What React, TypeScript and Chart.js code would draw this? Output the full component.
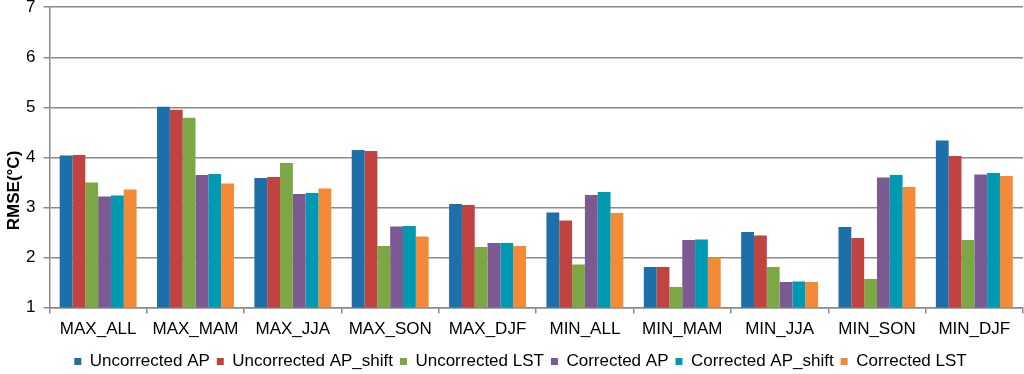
import React, { useEffect, useRef } from "react";
import { Chart, registerables } from "chart.js";

Chart.register(...registerables);

const categories = ["MAX_ALL", "MAX_MAM", "MAX_JJA", "MAX_SON", "MAX_DJF", "MIN_ALL", "MIN_MAM", "MIN_JJA", "MIN_SON", "MIN_DJF"];
const uncorrectedAP = [4.04, 5.01, 3.59, 4.15, 3.07, 2.9, 1.81, 2.51, 2.61, 4.34];
const uncorrectedAPShift = [4.05, 4.95, 3.61, 4.13, 3.05, 2.74, 1.81, 2.44, 2.39, 4.03];
const uncorrectedLST = [3.5, 4.79, 3.89, 2.23, 2.21, 1.86, 1.41, 1.81, 1.57, 2.35];
const correctedAP = [3.22, 3.65, 3.27, 2.62, 2.29, 3.25, 2.35, 1.51, 3.6, 3.66];
const correctedAPShift = [3.24, 3.67, 3.29, 2.63, 2.29, 3.31, 2.36, 1.52, 3.65, 3.69];
const correctedLST = [3.36, 3.48, 3.38, 2.42, 2.23, 2.89, 2.0, 1.51, 3.41, 3.63];
const seriesLabels = ["Uncorrected AP", "Uncorrected AP_shift", "Uncorrected LST", "Corrected AP", "Corrected AP_shift", "Corrected LST"];
const seriesColors = ["#1C6FA9", "#C0433F", "#7DA645", "#7B5A93", "#0099B2", "#F28A38"];
const yTitle = "RMSE(°C)";

const FONT = "'Liberation Sans', Arial, sans-serif";

const yTitlePlugin = {
  id: "yTitlePlugin",
  afterDraw(chart: any) {
    const { ctx, chartArea } = chart;
    ctx.save();
    ctx.font = `bold 17px ${FONT}`;
    ctx.fillStyle = "#000";
    ctx.textAlign = "center";
    ctx.textBaseline = "middle";
    ctx.translate(14, chartArea.top + (chartArea.bottom - chartArea.top) * 0.61);
    ctx.rotate(-Math.PI / 2);
    ctx.fillText(yTitle, 0, 0);
    ctx.restore();
  },
};

export default function App() {
  const ref = useRef<HTMLCanvasElement>(null);
  useEffect(() => {
    document.body.style.margin = "0";
    const values = [uncorrectedAP, uncorrectedAPShift, uncorrectedLST, correctedAP, correctedAPShift, correctedLST];
    const chart = new Chart(ref.current!, {
      type: "bar",
      data: {
        labels: categories,
        datasets: values.map((v, i) => ({
          label: seriesLabels[i],
          data: v,
          backgroundColor: seriesColors[i],
          borderWidth: 0,
          categoryPercentage: 0.79,
          barPercentage: 1.0,
        })),
      },
      options: {
        animation: false,
        responsive: false,
        layout: { padding: { left: 18, right: 1, top: 0, bottom: 2 } },
        plugins: {
          legend: {
            position: "bottom",
            labels: {
              boxWidth: 7,
              boxHeight: 7,
              padding: 7,
              color: "#000",
              font: { family: FONT, size: 17 },
            },
          },
          tooltip: { enabled: false },
        },
        scales: {
          x: {
            grid: { display: true, drawOnChartArea: false, offset: true, color: "#8a8a8a", lineWidth: 1.5, tickLength: 6 },
            border: { color: "#8a8a8a", width: 1.5 },
            ticks: { color: "#000", font: { family: FONT, size: 17 }, padding: 6, maxRotation: 0 },
          },
          y: {
            min: 1,
            max: 7,
            ticks: { stepSize: 1, color: "#000", font: { family: FONT, size: 17 }, padding: 8 },
            grid: { color: "#8a8a8a", lineWidth: 1.5, tickLength: 6 },
            border: { color: "#8a8a8a", width: 1.5 },
          },
        },
      },
      plugins: [yTitlePlugin],
    });
    return () => chart.destroy();
  }, []);
  return (
    <div style={{ position: "absolute", left: 0, top: -11, width: 1024, height: 393 }}>
      <canvas ref={ref} width={1024} height={393} />
    </div>
  );
}
